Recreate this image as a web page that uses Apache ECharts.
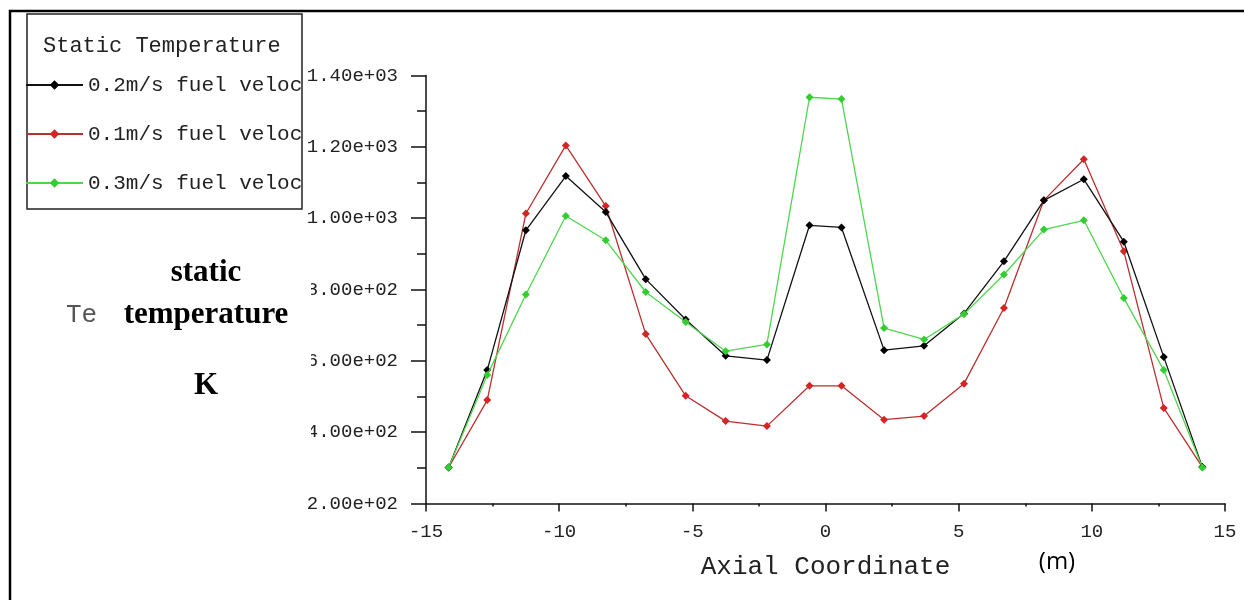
<!DOCTYPE html>
<html>
<head>
<meta charset="utf-8">
<script src="https://cdn.jsdelivr.net/npm/echarts@6/dist/echarts.min.js"></script>
<style>
html,body{margin:0;padding:0;background:#fff;}
#chart{width:1244px;height:600px;}
</style>
</head>
<body>
<div id="chart"></div>
<script>
// Axial coordinate of each sample point (m)
const axialCoords = [-14.15, -12.7, -11.25, -9.75, -8.25, -6.75, -5.25, -3.75, -2.2, -0.6,
                     0.6, 2.2, 3.7, 5.2, 6.7, 8.2, 9.7, 11.2, 12.7, 14.15];
// Static temperature (K)
const temp02 = [301, 574, 966, 1118, 1017, 829, 716, 614, 602, 980,
                974, 630, 642, 733, 879, 1050, 1109, 934, 611, 302];
const temp01 = [301, 490, 1013, 1204, 1034, 675, 502, 431, 417, 530,
                530, 435, 445, 536, 748, 1050, 1165, 907, 468, 302];
const temp03 = [301, 560, 786, 1006, 938, 793, 709, 627, 646, 1339,
                1334, 692, 660, 731, 842, 968, 994, 776, 574, 301];
const seriesNames = ['0.2m/s fuel velocity', '0.1m/s fuel velocity', '0.3m/s fuel velocity'];
const xTicks = {min: -15, max: 15, interval: 5};
const yTicks = {min: 200, max: 1400, interval: 200};

function pair(xs, ys){ return xs.map((x, i) => [x, ys[i]]); }
function sci(v){
  if (v === 0) return '0.00e+00';
  const e = Math.floor(Math.log10(Math.abs(v)) + 1e-9);
  const m = v / Math.pow(10, e);
  return m.toFixed(2) + 'e' + (e >= 0 ? '+' : '-') + String(Math.abs(e)).padStart(2, '0');
}

const mono = 'Liberation Mono';
const chart = echarts.init(document.getElementById('chart'), null, {renderer: 'canvas'});

const lineColors = ['#111111', '#b83030', '#4fd64f'];
const markColors = ['#000000', '#d42424', '#33cc33'];

chart.setOption({
  animation: false,
  backgroundColor: '#ffffff',
  grid: {left: 426, right: 19, top: 75.5, bottom: 96.5, containLabel: false},
  legend: {
    orient: 'vertical',
    left: 20,
    top: 69,
    itemWidth: 57,
    itemHeight: 12,
    itemGap: 27,
    data: seriesNames,
    selectedMode: false,
    textStyle: {
      fontFamily: mono, fontSize: 21, color: '#222', lineHeight: 22,
      width: 221, overflow: 'truncate', ellipsis: ''
    }
  },
  xAxis: {
    type: 'value',
    min: xTicks.min, max: xTicks.max, interval: xTicks.interval,
    name: 'Axial Coordinate',
    nameLocation: 'middle',
    nameGap: 51,
    nameTextStyle: {fontFamily: mono, fontSize: 26, color: '#222'},
    axisLine: {show: true, onZero: false, lineStyle: {color: '#111', width: 1.5}},
    axisTick: {show: true, length: 8, lineStyle: {color: '#111', width: 1.5}},
    minorTick: {show: true, splitNumber: 2, length: 3, lineStyle: {color: '#111', width: 1.5}},
    splitLine: {show: false},
    axisLabel: {fontFamily: mono, fontSize: 19, color: '#222', margin: 19}
  },
  yAxis: {
    type: 'value',
    min: yTicks.min, max: yTicks.max, interval: yTicks.interval,
    axisLine: {show: true, onZero: false, lineStyle: {color: '#111', width: 1.5}},
    axisTick: {show: true, length: 15, lineStyle: {color: '#111', width: 1.5}},
    minorTick: {show: true, splitNumber: 2, length: 9, lineStyle: {color: '#111', width: 1.5}},
    splitLine: {show: false},
    axisLabel: {fontFamily: mono, fontSize: 19, color: '#222', margin: 28, formatter: sci}
  },
  series: [
    {name: seriesNames[0], type: 'line', data: pair(axialCoords, temp02), symbol: 'diamond', symbolSize: 8,
     lineStyle: {color: lineColors[0], width: 1.3}, itemStyle: {color: markColors[0]}, z: 3},
    {name: seriesNames[1], type: 'line', data: pair(axialCoords, temp01), symbol: 'diamond', symbolSize: 8,
     lineStyle: {color: lineColors[1], width: 1.3}, itemStyle: {color: markColors[1]}, z: 2},
    {name: seriesNames[2], type: 'line', data: pair(axialCoords, temp03), symbol: 'diamond', symbolSize: 8,
     lineStyle: {color: lineColors[2], width: 1.3}, itemStyle: {color: markColors[2]}, z: 4}
  ],
  graphic: [
    // outer frame (top and left edges visible)
    {type: 'rect', z: 0, silent: true, shape: {x: 10, y: 11, width: 1300, height: 700},
     style: {fill: 'none', stroke: '#000', lineWidth: 2.5}},
    // legend box
    {type: 'rect', z: 0, silent: true, shape: {x: 27, y: 14, width: 275, height: 195},
     style: {fill: 'none', stroke: '#222', lineWidth: 1.5}},
    {type: 'text', z: 5, silent: true, left: 43, top: 35,
     style: {text: 'Static Temperature', font: '22px "Liberation Mono"', fill: '#222'}},
    // original axis title fragment
    {type: 'text', z: 5, silent: true, left: 66, top: 302,
     style: {text: 'Temperature', font: '26px "Liberation Mono"', fill: '#555'}},
    // legend text clipping at the box edge
    {type: 'rect', z: 100, silent: true, shape: {x: 303, y: 60, width: 2, height: 140},
     style: {fill: '#fff'}},
    // white overlay with replacement label
    {type: 'rect', z: 100, silent: true, shape: {x: 98, y: 232, width: 213, height: 238},
     style: {fill: '#fff'}},
    {type: 'text', z: 101, silent: true, x: 206, y: 273,
     style: {text: 'static', font: 'bold 31px "Liberation Serif"', fill: '#000', align: 'center', verticalAlign: 'middle'}},
    {type: 'text', z: 101, silent: true, x: 206, y: 315,
     style: {text: 'temperature', font: 'bold 31px "Liberation Serif"', fill: '#000', align: 'center', verticalAlign: 'middle'}},
    {type: 'text', z: 101, silent: true, x: 206, y: 386,
     style: {text: 'K', font: 'bold 31px "Liberation Serif"', fill: '#000', align: 'center', verticalAlign: 'middle'}},
    // unit
    {type: 'text', z: 101, silent: true, x: 1057, y: 562,
     style: {text: '(m)', font: '24px "Open Sans"', fill: '#000', align: 'center', verticalAlign: 'middle'}}
  ]
});
</script>
</body>
</html>
